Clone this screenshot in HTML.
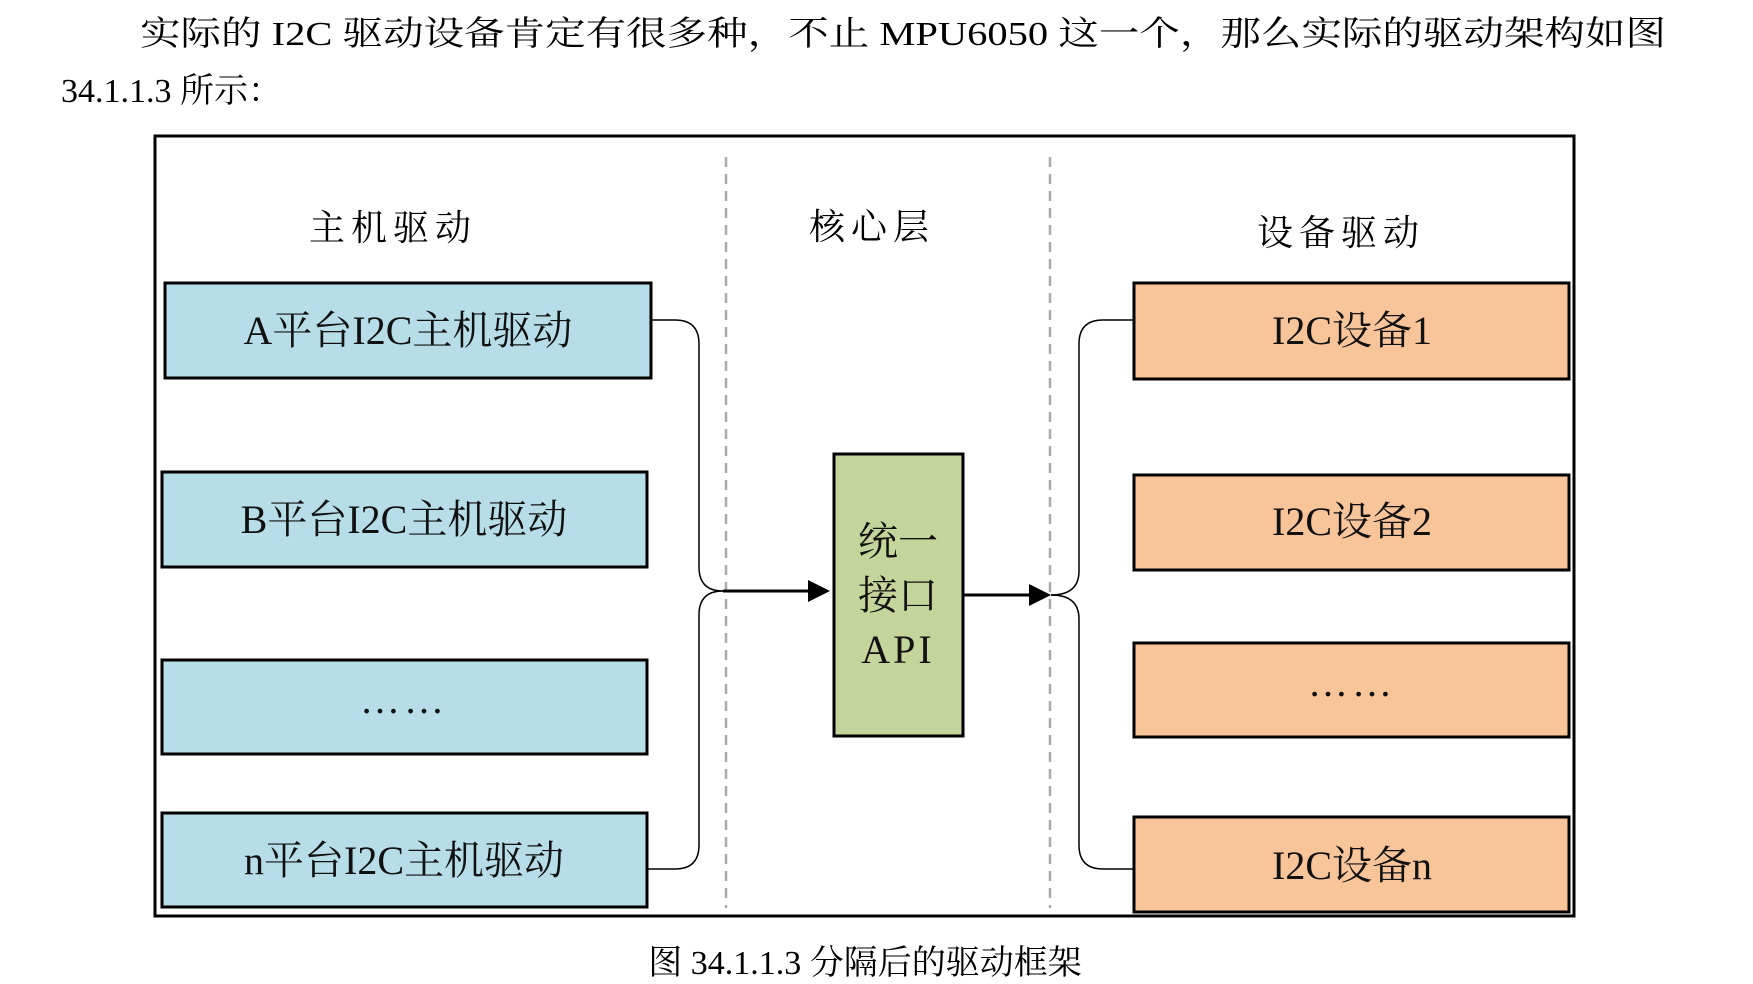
<!DOCTYPE html>
<html><head><meta charset="utf-8"><style>
html,body{margin:0;padding:0;background:#fff;}
svg{display:block;}
text{font-family:"Liberation Serif","Noto Serif CJK SC",serif;}
</style></head><body>
<svg width="1753" height="984" viewBox="0 0 1753 984" xmlns="http://www.w3.org/2000/svg">
<text x="140" y="45" font-size="34" fill="#000" textLength="1526" lengthAdjust="spacingAndGlyphs">实际的 I2C 驱动设备肯定有很多种，不止 MPU6050 这一个，那么实际的驱动架构如图</text>
<text x="61" y="102" font-size="34" fill="#000">34.1.1.3 所示：</text>

<rect x="155" y="136" width="1419" height="780" fill="none" stroke="#000" stroke-width="3"/>
<line x1="726" y1="157" x2="726" y2="908" stroke="#aaa" stroke-width="2.5" stroke-dasharray="10,7"/>
<line x1="1050" y1="157" x2="1050" y2="908" stroke="#aaa" stroke-width="2.5" stroke-dasharray="10,7"/>

<g font-size="36" text-anchor="middle" fill="#000">
<text x="393" y="240" letter-spacing="6">主机驱动</text>
<text x="872" y="239" letter-spacing="6">核心层</text>
<text x="1341" y="245" letter-spacing="6">设备驱动</text>
</g>

<g stroke="#000" stroke-width="3">
<rect x="165" y="283" width="486" height="95" fill="#b7dde8"/>
<rect x="162" y="472" width="485" height="95" fill="#b7dde8"/>
<rect x="162" y="660" width="485" height="94" fill="#b7dde8"/>
<rect x="162" y="813" width="485" height="94" fill="#b7dde8"/>
<rect x="1134" y="283" width="435" height="96" fill="#f8c59b"/>
<rect x="1134" y="475" width="435" height="95" fill="#f8c59b"/>
<rect x="1134" y="643" width="435" height="94" fill="#f8c59b"/>
<rect x="1134" y="817" width="435" height="95" fill="#f8c59b"/>
<rect x="834" y="454" width="129" height="282" fill="#c4d59b"/>
</g>

<g font-size="40" text-anchor="middle" fill="#111">
<text x="408" y="344">A平台I2C主机驱动</text>
<text x="404" y="533">B平台I2C主机驱动</text>
<text x="404" y="713" letter-spacing="4">……</text>
<text x="404" y="874">n平台I2C主机驱动</text>
<text x="1352" y="344">I2C设备1</text>
<text x="1352" y="535">I2C设备2</text>
<text x="1352" y="696" letter-spacing="4">……</text>
<text x="1352" y="879">I2C设备n</text>
<text x="898" y="555">统一</text>
<text x="898" y="609">接口</text>
<text x="898" y="663" letter-spacing="3">API</text>
</g>

<g fill="none" stroke="#000" stroke-width="1.5">
<path d="M651 320 H675 Q699 320 699 344 V567 Q699 591 723 591"/>
<path d="M647 869 H675 Q699 869 699 845 V615 Q699 591 723 591"/>
<path d="M1051 595 Q1079 595 1079 571 V344 Q1079 320 1103 320 H1134"/>
<path d="M1051 595 Q1079 595 1079 619 V845 Q1079 869 1103 869 H1134"/>
</g>
<g stroke="#000" stroke-width="3">
<line x1="723" y1="591" x2="812" y2="591"/>
<line x1="963" y1="595" x2="1032" y2="595"/>
</g>
<polygon points="830,591 808,580 808,602" fill="#000"/>
<polygon points="1051,595 1029,584 1029,606" fill="#000"/>

<text x="865" y="974" font-size="34" text-anchor="middle" fill="#000">图 34.1.1.3  分隔后的驱动框架</text>
</svg>
</body></html>
